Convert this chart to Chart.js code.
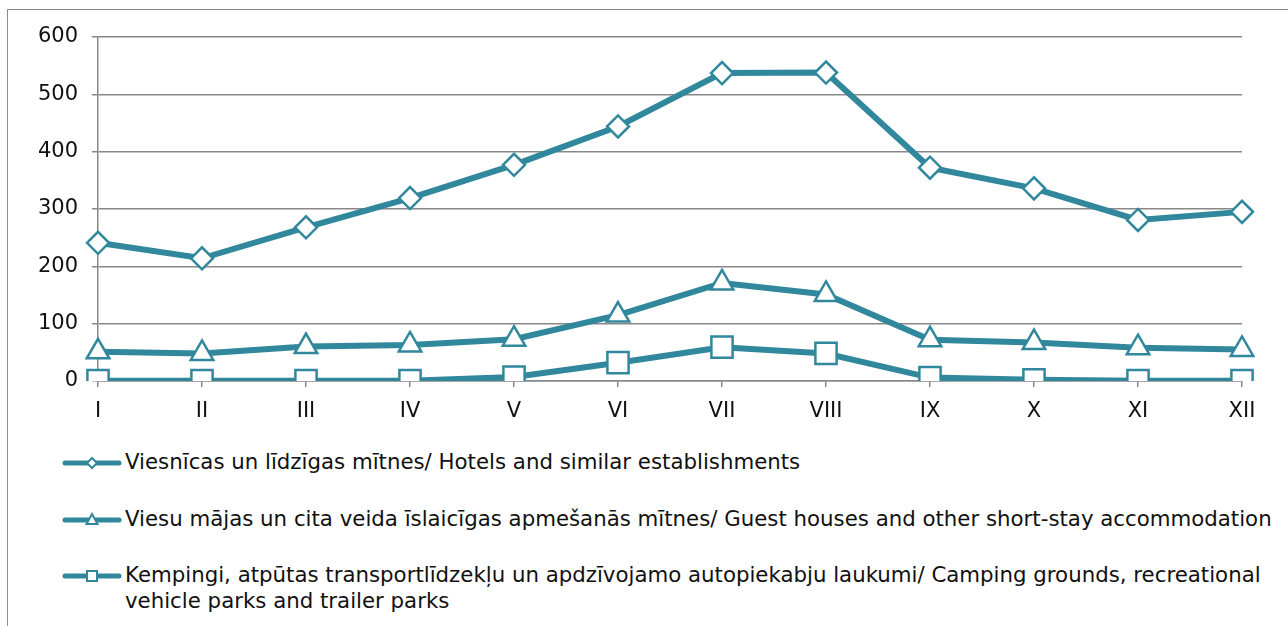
<!DOCTYPE html>
<html>
<head>
<meta charset="utf-8">
<script src="https://cdn.jsdelivr.net/npm/chart.js@4/dist/chart.umd.min.js"></script>
<style>
  html, body { margin: 0; padding: 0; background: #fff; }
  body { width: 1288px; height: 626px; position: relative; overflow: hidden; font-family: "DejaVu Sans", Verdana, sans-serif; }
  #frame { position: absolute; left: 7px; top: 9px; width: 1300px; height: 700px; border: 1px solid #8c8c8c; }
  #wrap { position: absolute; left: 0; top: 0; width: 1288px; height: 430px; }
  #legend { position: absolute; left: 62px; top: 449px; font-size: 21.3px; color: #111; }
  .item { display: flex; align-items: flex-start; margin-bottom: 30.5px; line-height: 26px; }
  .item svg { flex: none; margin-top: 2px; margin-right: 3px; }
</style>
</head>
<body>
<div id="frame"></div>
<div id="wrap"><canvas id="tourismChart"></canvas></div>
<div id="legend"></div>
<script>
const months = ['I', 'II', 'III', 'IV', 'V', 'VI', 'VII', 'VIII', 'IX', 'X', 'XI', 'XII'];
const hotels = [241, 214, 268, 319, 377, 444, 537, 538, 372, 336, 281, 295];
const guestHouses = [51, 48, 60, 63, 73, 115, 171, 151, 72, 67, 58, 55];
const camping = [0.5, 0.5, 0.5, 0.5, 7, 32, 59, 48, 6, 2, 0.5, 0.5];
const seriesNames = [
    'Viesnīcas un līdzīgas mītnes/ Hotels and similar establishments',
    'Viesu mājas un cita veida īslaicīgas apmešanās mītnes/ Guest houses and other short-stay accommodation',
    'Kempingi, atpūtas transportlīdzekļu un apdzīvojamo autopiekabju laukumi/ Camping grounds, recreational\nvehicle parks and trailer parks'
];
const yTicks = [0, 100, 200, 300, 400, 500, 600];

const teal = '#31889c';
const gridGray = '#888888';

function lineSet(label, values, shape, radius) {
    return {
        label: label,
        data: values,
        borderColor: teal,
        borderWidth: 6,
        pointStyle: shape,
        pointRadius: radius,
        pointHoverRadius: radius,
        pointBackgroundColor: '#ffffff',
        pointBorderColor: teal,
        pointBorderWidth: 2.5,
        tension: 0
    };
}

const ctx = document.getElementById('tourismChart').getContext('2d');
new Chart(ctx, {
    type: 'line',
    data: {
        labels: months,
        datasets: [
            lineSet(seriesNames[0], hotels, 'rectRot', 11),
            lineSet(seriesNames[1], guestHouses, 'triangle', 13),
            lineSet(seriesNames[2], camping, 'rect', 15)
        ]
    },
    options: {
        responsive: true,
        maintainAspectRatio: false,
        animation: false,
        layout: { padding: { top: 37, right: 46, left: 0, bottom: 0 } },
        plugins: {
            legend: { display: false },
            tooltip: { enabled: false }
        },
        scales: {
            x: {
                offset: false,
                grid: { display: true, drawOnChartArea: false, color: gridGray, lineWidth: 1.5, tickLength: 6 },
                border: { color: gridGray, width: 1.5 },
                ticks: { color: '#111', padding: 12, font: { family: 'DejaVu Sans', size: 21 } },
                afterFit: function (scale) { scale.height = 49; }
            },
            y: {
                min: 0,
                max: 600,
                afterBuildTicks: function (scale) { scale.ticks = yTicks.map(v => ({ value: v })); },
                grid: { color: gridGray, lineWidth: 1.5, tickLength: 6 },
                border: { color: gridGray, width: 1.5 },
                ticks: { color: '#111', padding: 14, font: { family: 'DejaVu Sans', size: 21 } },
                afterFit: function (scale) { scale.width = 98; }
            }
        }
    }
});

// legend drawn as html so the last entry can wrap onto two lines
const shapes = ['diamond', 'triangle', 'square'];
const legend = document.getElementById('legend');
seriesNames.forEach(function (name, i) {
    let marker;
    if (shapes[i] === 'diamond') marker = '<polygon points="30,7 35,12 30,17 25,12" fill="#fff" stroke="' + teal + '" stroke-width="2"/>';
    else if (shapes[i] === 'triangle') marker = '<polygon points="30,6 35.5,16 24.5,16" fill="#fff" stroke="' + teal + '" stroke-width="2"/>';
    else marker = '<rect x="25" y="7" width="10" height="10" fill="#fff" stroke="' + teal + '" stroke-width="2"/>';
    const div = document.createElement('div');
    div.className = 'item';
    div.innerHTML = '<svg width="60" height="24"><line x1="3" y1="12" x2="57" y2="12" stroke="' + teal + '" stroke-width="5" stroke-linecap="round"/>' + marker + '</svg><span>' + name.replace('\n', '<br>') + '</span>';
    legend.appendChild(div);
});
</script>
</body>
</html>
